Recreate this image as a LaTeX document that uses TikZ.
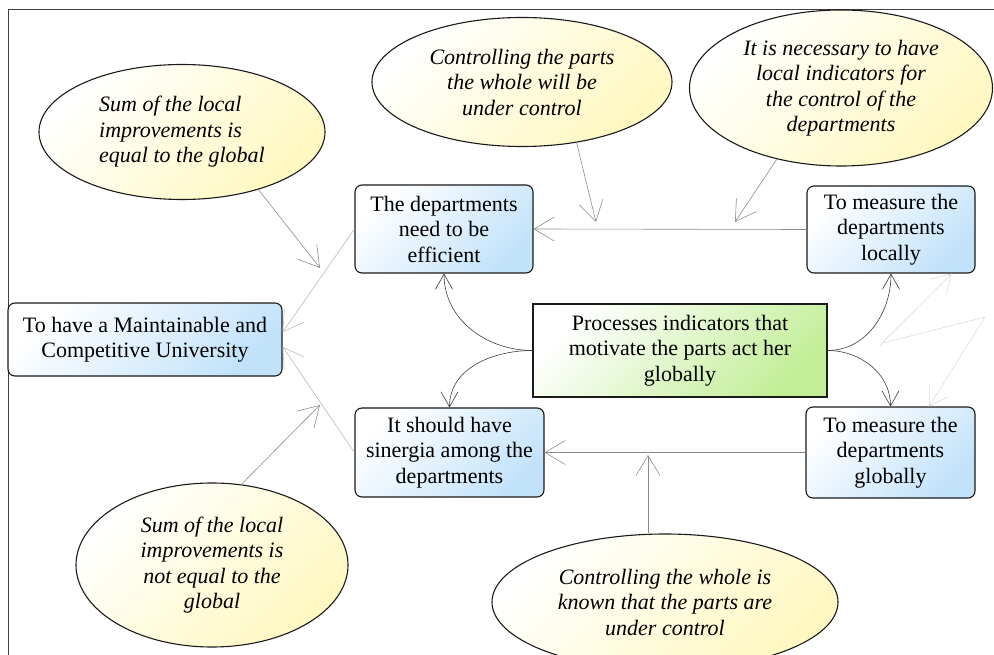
\documentclass[tikz,border=0pt]{standalone}
\usepackage{fontspec}
\setmainfont{Liberation Serif}
\usepackage{tikz}
\usetikzlibrary{positioning,calc,arrows.meta,shapes.geometric}
\tikzset{mapapx/.style={x=1pt,y=-1pt,every node/.style={anchor=center,align=center}}}
\definecolor{mpline}{HTML}{1A1A1A}
\definecolor{mpmarco}{HTML}{404040}
\definecolor{mpfio}{HTML}{8C8C8C}
\definecolor{mpazul}{HTML}{C2E2FA}
\definecolor{mpverde}{HTML}{C2EE98}
\definecolor{mpamar}{HTML}{FFF8C0}
\tikzset{
  marco/.style={draw=mpmarco,line width=0.8pt},
  caixa/.style={draw=mpline,line width=1.1pt,rounded corners=7pt,inner sep=0pt,
    font=\fontsize{22}{25.5}\selectfont,top color=white,bottom color=mpazul,shading angle=45},
  proc/.style={draw=mpline,line width=1.1pt,inner sep=0pt,
    font=\fontsize{22}{25.5}\selectfont,top color=white,bottom color=mpverde,shading angle=45},
  balao/.style={ellipse,draw=mpline,line width=1.1pt,inner sep=0pt,
    font=\fontsize{22}{25.5}\selectfont\itshape,top color=white,bottom color=mpamar,shading angle=45},
  lig/.style={draw=mpfio,line width=0.6pt,-{Straight Barb[length=20pt,width=24pt]}},
  ligclara/.style={draw=mpfio!60,line width=0.6pt,-{Straight Barb[length=20pt,width=24pt]}},
  ligfraca/.style={draw=mpfio!35,line width=0.5pt,-{Straight Barb[length=18pt,width=22pt]}},
  curva/.style={draw=mpline!85,line width=0.6pt,-{Straight Barb[length=15pt,width=17pt]}},
}

\begin{document}
\begin{tikzpicture}[mapapx]
  \useasboundingbox (0,0) rectangle (994,655);
  \draw[marco] (994,9) -- (8,9) -- (8,655);
  % --- caixas
  \node[caixa,minimum width=274pt,minimum height=73pt] (univ) at (145,339.5)
    {To have a Maintainable and\\Competitive University};
  \node[caixa,minimum width=178pt,minimum height=88pt] (efic) at (444,229)
    {The departments\\need to be\\efficient};
  \node[caixa,minimum width=168pt,minimum height=87pt] (local) at (891,229.5)
    {To measure the\\departments\\locally};
  \node[caixa,minimum width=189pt,minimum height=89pt] (siner) at (449.5,452.5)
    {It should have\\sinergia among the\\departments};
  \node[caixa,minimum width=169pt,minimum height=91pt] (global) at (890.5,452.5)
    {To measure the\\departments\\globally};
  \node[proc,minimum width=294pt,minimum height=93pt] (indic) at (680,350.5)
    {Processes indicators that\\motivate the parts act her\\globally};
  % --- baloes
  \node[balao,align=left,minimum width=286pt,minimum height=135pt] (somaig) at (182,132)
    {Sum of the local\\improvements is\\equal to the global};
  \node[balao,minimum width=300pt,minimum height=129pt] (ctrlpartes) at (522,82)
    {Controlling the parts\\the whole will be\\under control};
  \node[balao,minimum width=303pt,minimum height=156pt] (indloc) at (841,88)
    {It is necessary to have\\local indicators for\\the control of the\\departments};
  \node[balao,minimum width=272pt,minimum height=164pt] (somadif) at (212,565)
    {Sum of the local\\improvements is\\not equal to the\\global};
  \node[balao,minimum width=346pt,minimum height=136pt] (ctrltodo) at (665,602)
    {Controlling the whole is\\known that the parts are\\under control};
  % --- pontos soltos
  \coordinate (p1) at (596,222);
  \coordinate (p2) at (735,222);
  \coordinate (p3) at (320,268);
  \coordinate (p4) at (320,405);
  \coordinate (p5) at (648,455);
  \coordinate (p6) at (880,345);
  \coordinate (p7) at (883,343);
  \coordinate (p8) at (985,317);
  % --- ligacoes
  \draw[lig] (local.west) -- (efic.east);
  \draw[lig] (global.west) -- (siner.east);
  \draw[lig] (ctrlpartes.-48) -- (p1);
  \draw[lig] (indloc.-132) -- (p2);
  \draw[lig] (somaig.-37) -- (p3);
  \draw[lig] (somadif.70) -- (p4);
  \draw[lig] (p5 |- ctrltodo.north) -- (p5);
  \draw[ligclara] (efic.west) -- (univ.3);
  \draw[ligclara] (siner.west) -- (univ.-3);
  \draw[curva] (indic.west) to[out=180,in=-90] (efic.south);
  \draw[curva] (indic.west) to[out=180,in=90] (siner.north);
  \draw[curva] (indic.east) to[out=0,in=-90] (local.south);
  \draw[curva] (indic.east) to[out=0,in=90] (global.north);
  \draw[ligfraca] (p6) -- (local.-36);
  \draw[ligfraca] (p7) -- (p8) -- (global.50);
\end{tikzpicture}
\end{document}
